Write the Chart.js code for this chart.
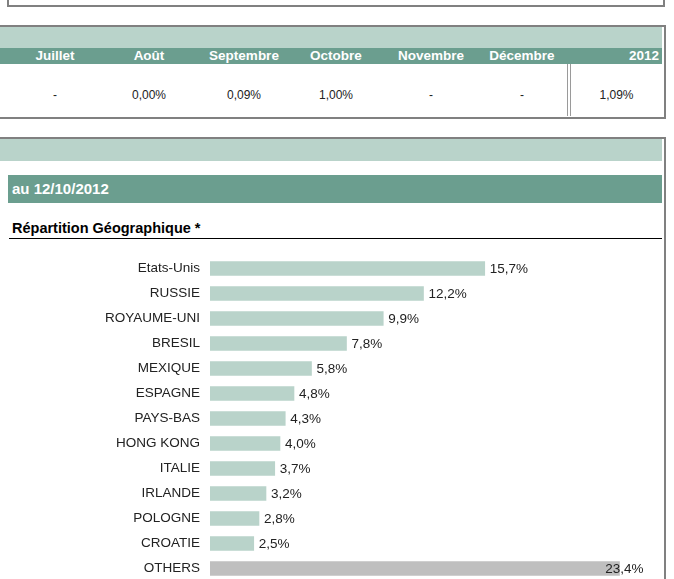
<!DOCTYPE html>
<html lang="fr">
<head>
  <meta charset="UTF-8">
  <meta name="viewport" content="width=device-width, initial-scale=1.0">
  <script src="https://cdn.jsdelivr.net/npm/chart.js"></script>
  <title>Répartition Géographique</title>
  <style>
    body{margin:0; width:674px; height:579px; overflow:hidden; background:#fff; font-family:"Liberation Sans", Arial, sans-serif; position:relative;}
    .abs{position:absolute;}
    #box1{left:7px; top:-10px; width:654px; height:13px; border:2px solid #808080;}
    #box2{left:-2px; top:25px; width:664px; height:90px; border:2px solid #808080;}
    #box3{left:-2px; top:137px; width:664px; height:460px; border:2px solid #808080; border-bottom:none;}
    .lightBand{background:#b9d3ca;}
    .darkBand{background:#6b9e8f; color:#fff; font-weight:bold;}
    .hcell{position:absolute; top:48px; height:16px; line-height:16px; font-size:13.5px; font-weight:bold; color:#fff; text-align:center;}
    .vcell{position:absolute; top:87px; height:16px; line-height:16px; font-size:12px; color:#222; text-align:center;}
    #dbl1,#dbl2{top:64px; width:1px; height:52px; background:#9a9a9a;}
    #wrap{left:0; top:256px; width:664px; height:325px;}
  </style>
</head>
<body>
  <div id="box1" class="abs"></div>
  <div id="box2" class="abs"></div>
  <div class="abs lightBand" style="left:0; top:27px; width:662px; height:21px;"></div>
  <div class="abs darkBand" style="left:0; top:48px; width:662px; height:16px;"></div>
  <div id="dbl1" class="abs" style="left:567px;"></div>
  <div id="dbl2" class="abs" style="left:570px;"></div>
  <div id="table"></div>

  <div id="box3" class="abs"></div>
  <div class="abs lightBand" style="left:0; top:139px; width:662px; height:22px;"></div>
  <div class="abs darkBand" style="left:8px; top:175px; width:654px; height:28px; line-height:28px; font-size:15px;"><span style="margin-left:4px;">au 12/10/2012</span></div>
  <div class="abs" style="left:12px; top:220px; font-size:14.5px; font-weight:bold; color:#000;">Répartition Géographique *</div>
  <div class="abs" style="left:9px; top:238px; width:653px; height:1px; background:#000;"></div>

  <div id="wrap" class="abs">
    <canvas id="myChart" width="664" height="325"></canvas>
  </div>

  <script>
    // tableau mensuel
    const months = ['Juillet', 'Août', 'Septembre', 'Octobre', 'Novembre', 'Décembre'];
    const monthValues = ['-', '0,00%', '0,09%', '1,00%', '-', '-'];
    const yearLabel = '2012';
    const yearValue = '1,09%';

    // répartition géographique (%)
    const countries = ['Etats-Unis', 'RUSSIE', 'ROYAUME-UNI', 'BRESIL', 'MEXIQUE', 'ESPAGNE', 'PAYS-BAS',
                       'HONG KONG', 'ITALIE', 'IRLANDE', 'POLOGNE', 'CROATIE', 'OTHERS'];
    const shares = [15.7, 12.2, 9.9, 7.8, 5.8, 4.8, 4.3, 4.0, 3.7, 3.2, 2.8, 2.5, 23.4];

    // colonnes du tableau
    const colCenters = [55, 149, 244, 336, 431, 522];
    let html = '';
    months.forEach((m, i) => {
      html += '<div class="hcell" style="left:' + (colCenters[i] - 45) + 'px; width:90px;">' + m + '</div>';
      html += '<div class="vcell" style="left:' + (colCenters[i] - 45) + 'px; width:90px;">' + monthValues[i] + '</div>';
    });
    html += '<div class="hcell" style="left:571px; width:88px; text-align:right;">' + yearLabel + '</div>';
    html += '<div class="vcell" style="left:571px; width:91px;">' + yearValue + '</div>';
    document.getElementById('table').innerHTML = html;

    // étiquettes de valeur au bout des barres
    const valueLabels = {
      id: 'valueLabels',
      afterDatasetsDraw(chart) {
        const ctx = chart.ctx;
        const meta = chart.getDatasetMeta(0);
        const limit = chart.chartArea.right - 4;
        ctx.save();
        ctx.font = '13.5px "Liberation Sans", Arial, sans-serif';
        ctx.fillStyle = '#222';
        ctx.textBaseline = 'middle';
        ctx.textAlign = 'left';
        meta.data.forEach((bar, i) => {
          const txt = shares[i].toFixed(1).replace('.', ',') + '%';
          const w = ctx.measureText(txt).width;
          let x = bar.x + 5;
          if (x + w > limit) x = limit - w;
          ctx.fillText(txt, x, bar.y + 1);
        });
        ctx.restore();
      }
    };

    const ctx = document.getElementById('myChart');
    new Chart(ctx, {
      type: 'bar',
      data: {
        labels: countries,
        datasets: [{
          data: shares,
          backgroundColor: countries.map(c => c === 'OTHERS' ? '#bfbfbf' : '#b9d3ca'),
          borderWidth: 0,
          barThickness: 14
        }]
      },
      options: {
        indexAxis: 'y',
        responsive: false,
        animation: false,
        layout: { padding: { top: 0, bottom: 0, left: 0, right: 16.5 } },
        plugins: { legend: { display: false }, tooltip: { enabled: false } },
        scales: {
          x: { display: false, min: 0, max: 25 },
          y: {
            grid: { display: false, drawTicks: false },
            border: { display: false },
            ticks: {
              padding: 10,
              color: '#222',
              font: { family: '"Liberation Sans", Arial, sans-serif', size: 13.5 }
            },
            afterFit(scale) {
              scale.width = 210;
              scale.paddingTop = 0;
              scale.paddingBottom = 0;
            }
          }
        }
      },
      plugins: [valueLabels]
    });
  </script>
</body>
</html>
